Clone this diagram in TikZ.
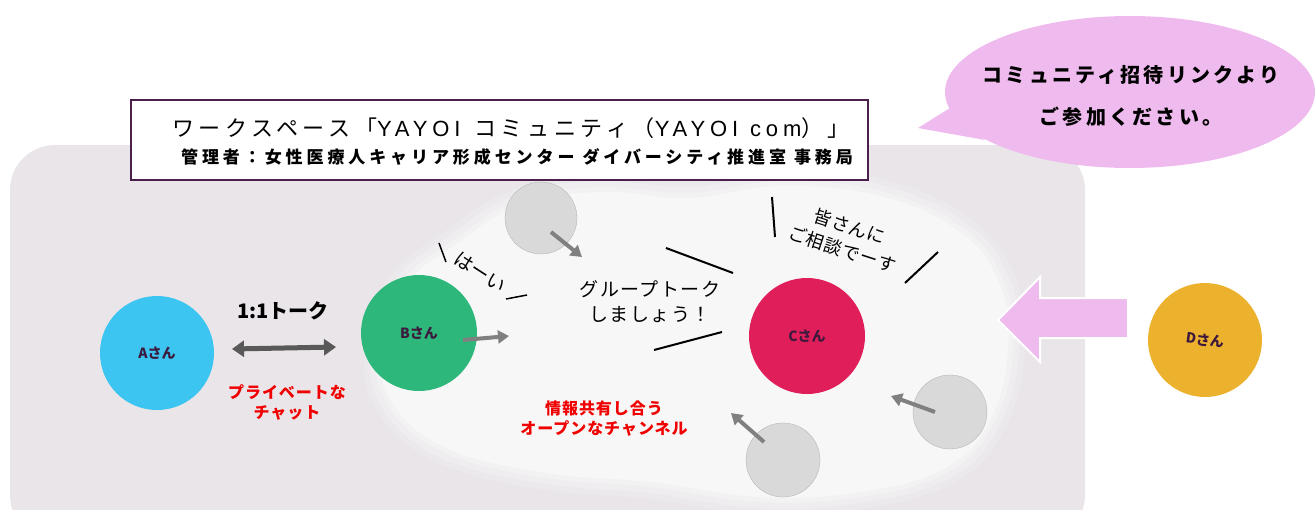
\documentclass[tikz,border=0pt]{standalone}
\usepackage{fontspec}
\setmainfont{Noto Sans CJK JP}
\newfontfamily\latinfont{Liberation Sans}
\usetikzlibrary{arrows.meta,shapes.geometric}
\definecolor{bgc}{HTML}{E9E5E9}
\definecolor{cloudc}{HTML}{F7F7F7}
\definecolor{pinkc}{HTML}{EFBBEE}
\definecolor{framec}{HTML}{4B1F4B}
\definecolor{lblc}{HTML}{3D1A3D}
\definecolor{ac}{HTML}{3BC5F0}
\definecolor{bc}{HTML}{2DB77B}
\definecolor{cc}{HTML}{E01E5A}
\definecolor{dc}{HTML}{ECB22E}
\definecolor{grayc}{HTML}{D9D9D9}
\definecolor{arrc}{HTML}{808080}
\definecolor{redc}{HTML}{F00000}
\newcommand\ls[1]{\addfontfeatures{LetterSpace=#1}}
\newcommand\lat[1]{{\latinfont\addfontfeatures{LetterSpace=22}#1}}
\newcommand\gap[1]{\rule{#1}{0pt}}
\tikzset{
  person/.style={circle,inner sep=0pt,minimum size=#1,font=\fontsize{14}{16}\selectfont\bfseries,text=lblc},
  ghost/.style={circle,fill=grayc,draw=grayc!80!black,line width=0.3pt,inner sep=0pt,minimum size=#1},
  garrow/.style={draw=arrc,line width=4pt,-{Triangle[length=11pt,width=13pt]}},
  redtxt/.style={text=redc,font=\fontsize{16}{20}\selectfont\bfseries\ls{6},align=center},
  blacktxt/.style={text=black,font=\fontsize{19}{25}\selectfont\ls{8},align=center},
  talkline/.style={draw=black,line width=2pt},
}
\begin{document}
\begin{tikzpicture}[x=1pt,y=-1pt]
\useasboundingbox (0,0) rectangle (1315,509);
% background panel
\fill[bgc,rounded corners=45pt] (10,145) rectangle (1085,540);
% cloud
\def\cloudpath{plot[smooth cycle,tension=0.7] coordinates {(385,340) (405,285) (455,245) (520,205) (600,192) (690,198) (780,186) (880,196) (960,232) (1000,285) (1008,350) (990,420) (945,468) (860,492) (760,497) (650,482) (540,472) (440,445) (388,395)}}
\draw[cloudc,opacity=0.25,line width=34pt,line join=round] \cloudpath;
\draw[cloudc,opacity=0.35,line width=22pt,line join=round] \cloudpath;
\draw[cloudc,opacity=0.5,line width=10pt,line join=round] \cloudpath;
\fill[cloudc] \cloudpath;
% title box
\node[draw=framec,line width=1.2pt,fill=white,minimum width=737pt,minimum height=80pt,inner sep=0pt] (title) at (499.5,140) {};
\node[font=\fontsize{22}{24}\selectfont\ls{21}] (t1) at (511,128) {ワークスペース「\lat{YAYOI}\gap{14pt}コミュニティ（\lat{YAYOI}\gap{12pt}\lat{com}）」};
\node[font=\fontsize{17}{19}\selectfont\bfseries\ls{23}] (t2) at (517,157) {管理者：女性医療人キャリア形成センター\gap{8pt}ダイバーシティ推進室\gap{8pt}事務局};
% speech bubble
\fill[pinkc] (918,128) -- (950,108) -- (985,140) -- cycle;
\node[ellipse,fill=pinkc,minimum width=370pt,minimum height=152pt,inner sep=0pt] (bubble) at (1130,92) {};
\node[font=\fontsize{20}{22}\selectfont\bfseries\ls{16}] (b1) at (1131,75) {コミュニティ招待リンクより};
\node[font=\fontsize{20}{22}\selectfont\bfseries\ls{16}] (b2) at (1131,117) {ご参加ください。};
% people
\node[person=114pt,fill=ac] (A) at (157,353) {Aさん};
\node[person=116pt,fill=bc] (B) at (419,333) {Bさん};
\node[person=116pt,fill=cc] (C) at (807,336) {Cさん};
\node[person=114pt,fill=dc,rotate=-8] (D) at (1205,340) {Dさん};
% ghosts
\node[ghost=72pt] (g1) at (541,218) {};
\node[ghost=74pt] (g2) at (950,412) {};
\node[ghost=74pt] (g3) at (783,460) {};
% arrows
\coordinate (g1e) at (582,257);
\coordinate (g2e) at (891,396);
\coordinate (g3e) at (731,413);
\coordinate (Be) at (509,336);
\draw[garrow] (551,232) -- (g1e);
\draw[garrow] (935,412) -- (g2e);
\draw[garrow] (764,442) -- (g3e);
\draw[garrow] (463,340) -- (Be);
% 1:1 talk
\coordinate (dl) at (232,349);
\coordinate (dr) at (336,347);
\draw[draw=black!65,line width=5pt,{Triangle[length=12pt,width=16pt]}-{Triangle[length=12pt,width=16pt]}] (dl) -- (dr);
\node[font=\fontsize{20}{22}\selectfont\bfseries] (one) at (283,311) {1:1トーク};
\node[redtxt] (priv) at (287,402) {プライベートな\\チャット};
\node[redtxt] (open) at (604,419) {情報共有し合う\\オープンなチャンネル};
% group talk
\node[blacktxt] (group) at (650,302) {グループトーク\\しましょう！};
\draw[talkline] (666,248) -- (733,273);
\draw[talkline] (654,350) -- (722,332);
% minasan
\node[blacktxt,font=\fontsize{18}{24}\selectfont\ls{4},rotate=-18] (mina) at (846,238) {皆さんに\\ご相談でーす};
\draw[talkline] (772,197) -- (775,237);
\draw[talkline] (905,283) -- (938,252);
% hai
\node[font=\fontsize{19}{20}\selectfont,rotate=-33] (hai) at (480,272) {はーい};
\draw[talkline,line width=1.5pt] (439,243) -- (446,262);
\draw[talkline,line width=1.5pt] (506,299) -- (527,295);
% pink arrow
\draw[fill=pinkc,draw=white,line width=2pt] (998,320) -- (1040,277) -- (1040,298) -- (1128,298) -- (1128,338) -- (1040,338) -- (1040,362) -- cycle;
\end{tikzpicture}
\end{document}
